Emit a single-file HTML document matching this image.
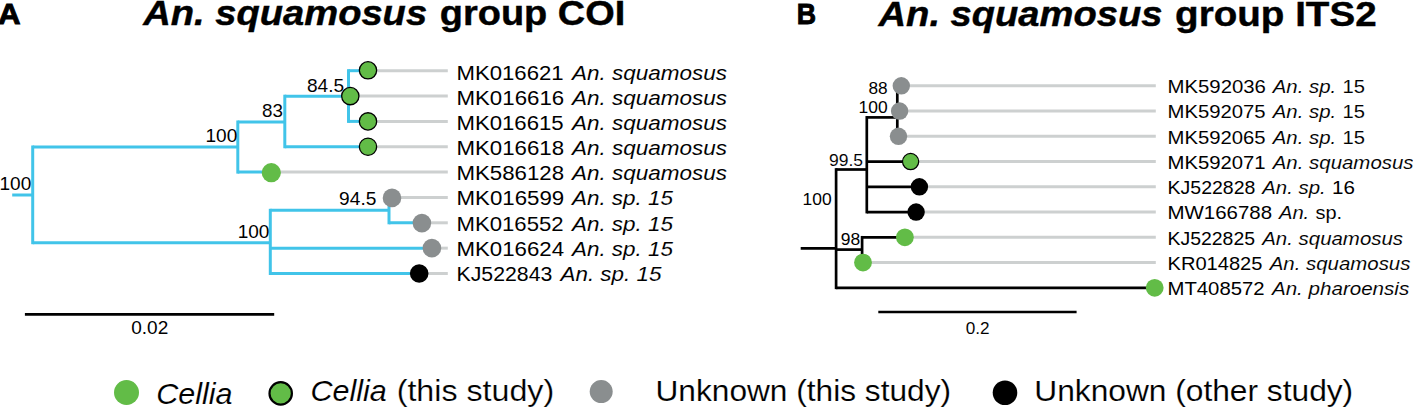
<!DOCTYPE html>
<html><head><meta charset="utf-8"><style>
html,body{margin:0;padding:0;background:#fff;}
body{width:1413px;height:407px;overflow:hidden;}
svg{display:block;}
text{font-family:"Liberation Sans",sans-serif;fill:#000;}
</style></head><body>
<svg width="1413" height="407" viewBox="0 0 1413 407">
<rect width="1413" height="407" fill="#fff"/>
<g id="shapes">
<line x1="368.00" y1="70.70" x2="447.80" y2="70.70" stroke="#CDD0D0" stroke-width="3.0"/>
<line x1="350.30" y1="96.05" x2="447.80" y2="96.05" stroke="#CDD0D0" stroke-width="3.0"/>
<line x1="368.00" y1="121.40" x2="447.80" y2="121.40" stroke="#CDD0D0" stroke-width="3.0"/>
<line x1="368.00" y1="146.75" x2="447.80" y2="146.75" stroke="#CDD0D0" stroke-width="3.0"/>
<line x1="271.30" y1="172.10" x2="447.80" y2="172.10" stroke="#CDD0D0" stroke-width="3.0"/>
<line x1="392.00" y1="197.45" x2="447.80" y2="197.45" stroke="#CDD0D0" stroke-width="3.0"/>
<line x1="421.90" y1="222.80" x2="447.80" y2="222.80" stroke="#CDD0D0" stroke-width="3.0"/>
<line x1="431.90" y1="248.15" x2="447.80" y2="248.15" stroke="#CDD0D0" stroke-width="3.0"/>
<line x1="419.20" y1="273.50" x2="447.80" y2="273.50" stroke="#CDD0D0" stroke-width="3.0"/>
<line x1="12.20" y1="195.00" x2="32.70" y2="195.00" stroke="#41C4E9" stroke-width="3.0"/>
<line x1="32.70" y1="147.00" x2="32.70" y2="242.70" stroke="#41C4E9" stroke-width="3.0" stroke-linecap="square"/>
<line x1="32.70" y1="147.00" x2="237.80" y2="147.00" stroke="#41C4E9" stroke-width="3.0"/>
<line x1="32.70" y1="242.70" x2="270.30" y2="242.70" stroke="#41C4E9" stroke-width="3.0"/>
<line x1="237.80" y1="122.00" x2="237.80" y2="172.10" stroke="#41C4E9" stroke-width="3.0" stroke-linecap="square"/>
<line x1="237.80" y1="122.00" x2="284.80" y2="122.00" stroke="#41C4E9" stroke-width="3.0"/>
<line x1="237.80" y1="172.10" x2="271.30" y2="172.10" stroke="#41C4E9" stroke-width="3.0"/>
<line x1="284.80" y1="96.20" x2="284.80" y2="146.75" stroke="#41C4E9" stroke-width="3.0" stroke-linecap="square"/>
<line x1="284.80" y1="96.20" x2="348.50" y2="96.20" stroke="#41C4E9" stroke-width="3.0"/>
<line x1="284.80" y1="146.75" x2="368.00" y2="146.75" stroke="#41C4E9" stroke-width="3.0"/>
<line x1="348.50" y1="70.70" x2="348.50" y2="121.40" stroke="#41C4E9" stroke-width="3.0" stroke-linecap="square"/>
<line x1="348.50" y1="70.70" x2="368.00" y2="70.70" stroke="#41C4E9" stroke-width="3.0"/>
<line x1="348.50" y1="121.40" x2="368.00" y2="121.40" stroke="#41C4E9" stroke-width="3.0"/>
<line x1="270.30" y1="210.30" x2="270.30" y2="273.50" stroke="#41C4E9" stroke-width="3.0" stroke-linecap="square"/>
<line x1="270.30" y1="210.30" x2="389.00" y2="210.30" stroke="#41C4E9" stroke-width="3.0"/>
<line x1="270.30" y1="248.15" x2="431.90" y2="248.15" stroke="#41C4E9" stroke-width="3.0"/>
<line x1="270.30" y1="273.50" x2="419.20" y2="273.50" stroke="#41C4E9" stroke-width="3.0"/>
<line x1="389.00" y1="197.45" x2="389.00" y2="222.80" stroke="#41C4E9" stroke-width="3.0" stroke-linecap="square"/>
<line x1="389.00" y1="197.45" x2="392.00" y2="197.45" stroke="#41C4E9" stroke-width="3.0"/>
<line x1="389.00" y1="222.80" x2="421.90" y2="222.80" stroke="#41C4E9" stroke-width="3.0"/>
<line x1="901.30" y1="85.80" x2="1155.80" y2="85.80" stroke="#CDD0D0" stroke-width="3.0"/>
<line x1="899.60" y1="111.05" x2="1155.80" y2="111.05" stroke="#CDD0D0" stroke-width="3.0"/>
<line x1="898.50" y1="136.30" x2="1155.80" y2="136.30" stroke="#CDD0D0" stroke-width="3.0"/>
<line x1="910.60" y1="161.55" x2="1155.80" y2="161.55" stroke="#CDD0D0" stroke-width="3.0"/>
<line x1="919.40" y1="186.80" x2="1155.80" y2="186.80" stroke="#CDD0D0" stroke-width="3.0"/>
<line x1="916.10" y1="212.05" x2="1155.80" y2="212.05" stroke="#CDD0D0" stroke-width="3.0"/>
<line x1="904.90" y1="237.30" x2="1155.80" y2="237.30" stroke="#CDD0D0" stroke-width="3.0"/>
<line x1="863.00" y1="262.55" x2="1155.80" y2="262.55" stroke="#CDD0D0" stroke-width="3.0"/>
<line x1="800.70" y1="248.40" x2="836.10" y2="248.40" stroke="#000" stroke-width="2.7"/>
<line x1="836.10" y1="169.50" x2="836.10" y2="287.80" stroke="#000" stroke-width="2.7" stroke-linecap="square"/>
<line x1="836.10" y1="169.50" x2="866.80" y2="169.50" stroke="#000" stroke-width="2.7"/>
<line x1="836.10" y1="249.60" x2="862.10" y2="249.60" stroke="#000" stroke-width="2.7"/>
<line x1="836.10" y1="287.80" x2="1154.70" y2="287.80" stroke="#000" stroke-width="2.7"/>
<line x1="866.80" y1="117.40" x2="866.80" y2="212.05" stroke="#000" stroke-width="2.7" stroke-linecap="square"/>
<line x1="866.80" y1="117.40" x2="897.30" y2="117.40" stroke="#000" stroke-width="2.7"/>
<line x1="866.80" y1="161.55" x2="910.60" y2="161.55" stroke="#000" stroke-width="2.7"/>
<line x1="866.80" y1="186.80" x2="919.40" y2="186.80" stroke="#000" stroke-width="2.7"/>
<line x1="866.80" y1="212.05" x2="916.10" y2="212.05" stroke="#000" stroke-width="2.7"/>
<line x1="897.30" y1="85.80" x2="897.30" y2="136.30" stroke="#000" stroke-width="2.7" stroke-linecap="square"/>
<line x1="897.30" y1="85.80" x2="901.30" y2="85.80" stroke="#000" stroke-width="2.7"/>
<line x1="897.30" y1="111.05" x2="899.60" y2="111.05" stroke="#000" stroke-width="2.7"/>
<line x1="897.30" y1="136.30" x2="898.50" y2="136.30" stroke="#000" stroke-width="2.7"/>
<line x1="862.10" y1="237.30" x2="862.10" y2="262.55" stroke="#000" stroke-width="2.7" stroke-linecap="square"/>
<line x1="862.10" y1="237.30" x2="904.90" y2="237.30" stroke="#000" stroke-width="2.7"/>
<line x1="24.90" y1="314.40" x2="274.20" y2="314.40" stroke="#000" stroke-width="2.7"/>
<line x1="878.30" y1="312.00" x2="1076.60" y2="312.00" stroke="#000" stroke-width="2.7"/>
</g>
<g id="circles">
<circle cx="368.00" cy="70.30" r="8.65" fill="#62BC47" stroke="#000" stroke-width="1.3"/>
<circle cx="350.30" cy="96.10" r="8.65" fill="#62BC47" stroke="#000" stroke-width="1.3"/>
<circle cx="368.00" cy="121.40" r="8.65" fill="#62BC47" stroke="#000" stroke-width="1.3"/>
<circle cx="368.00" cy="146.75" r="8.65" fill="#62BC47" stroke="#000" stroke-width="1.3"/>
<circle cx="271.30" cy="172.70" r="9.60" fill="#62BC47"/>
<circle cx="392.00" cy="197.90" r="9.30" fill="#8A8E8F"/>
<circle cx="421.90" cy="223.10" r="9.30" fill="#8A8E8F"/>
<circle cx="431.90" cy="248.15" r="9.30" fill="#8A8E8F"/>
<circle cx="419.20" cy="273.50" r="9.30" fill="#000"/>
<circle cx="901.30" cy="85.80" r="8.70" fill="#8A8E8F"/>
<circle cx="899.60" cy="111.05" r="8.70" fill="#8A8E8F"/>
<circle cx="898.50" cy="136.30" r="8.70" fill="#8A8E8F"/>
<circle cx="910.60" cy="161.55" r="8.10" fill="#62BC47" stroke="#000" stroke-width="1.2"/>
<circle cx="919.40" cy="186.80" r="8.70" fill="#000"/>
<circle cx="916.10" cy="212.05" r="8.70" fill="#000"/>
<circle cx="904.90" cy="237.30" r="8.90" fill="#62BC47"/>
<circle cx="863.00" cy="262.55" r="8.90" fill="#62BC47"/>
<circle cx="1154.70" cy="287.80" r="8.90" fill="#62BC47"/>
<circle cx="126.50" cy="392.50" r="12.50" fill="#62BC47"/>
<circle cx="280.70" cy="393.40" r="11.20" fill="#62BC47" stroke="#000" stroke-width="2.2"/>
<circle cx="601.20" cy="391.60" r="11.50" fill="#8A8E8F"/>
<circle cx="1005.00" cy="392.80" r="12.30" fill="#000"/>
</g>
<g id="texts">
<text id="t0" x="-1.90" y="24.20" font-size="29.46" font-style="normal" font-weight="bold" textLength="22.60" lengthAdjust="spacingAndGlyphs" stroke="#000" stroke-width="0.9">A</text>
<text id="t1" x="796.64" y="24.30" font-size="29.46" font-style="normal" font-weight="bold" textLength="19.29" lengthAdjust="spacingAndGlyphs" stroke="#000" stroke-width="0.9">B</text>
<text id="t2" x="143.28" y="24.90" font-size="34.42" font-style="italic" font-weight="bold" textLength="283.85" lengthAdjust="spacingAndGlyphs" stroke="#000" stroke-width="0.4">An. squamosus</text>
<text id="t3" x="439.86" y="24.90" font-size="34.42" font-style="normal" font-weight="bold" textLength="185.38" lengthAdjust="spacingAndGlyphs" stroke="#000" stroke-width="0.4">group COI</text>
<text id="t4" x="878.58" y="25.60" font-size="34.42" font-style="italic" font-weight="bold" textLength="283.85" lengthAdjust="spacingAndGlyphs" stroke="#000" stroke-width="0.4">An. squamosus</text>
<text id="t5" x="1175.13" y="25.60" font-size="34.42" font-style="normal" font-weight="bold" textLength="201.53" lengthAdjust="spacingAndGlyphs" stroke="#000" stroke-width="0.4">group ITS2</text>
<text id="t6" x="456.49" y="79.50" font-size="20.91" font-style="normal" font-weight="normal" textLength="107.17" lengthAdjust="spacingAndGlyphs">MK016621</text>
<text id="t7" x="571.97" y="79.50" font-size="21.11" font-style="italic" font-weight="normal" textLength="154.97" lengthAdjust="spacingAndGlyphs" stroke="#fff" stroke-width="0.054">An. squamosus</text>
<text id="t8" x="456.49" y="104.68" font-size="20.91" font-style="normal" font-weight="normal" textLength="107.67" lengthAdjust="spacingAndGlyphs">MK016616</text>
<text id="t9" x="571.97" y="104.68" font-size="21.11" font-style="italic" font-weight="normal" textLength="154.97" lengthAdjust="spacingAndGlyphs" stroke="#fff" stroke-width="0.054">An. squamosus</text>
<text id="t10" x="456.49" y="129.86" font-size="20.91" font-style="normal" font-weight="normal" textLength="107.16" lengthAdjust="spacingAndGlyphs">MK016615</text>
<text id="t11" x="571.97" y="129.86" font-size="21.11" font-style="italic" font-weight="normal" textLength="154.97" lengthAdjust="spacingAndGlyphs" stroke="#fff" stroke-width="0.054">An. squamosus</text>
<text id="t12" x="456.49" y="155.04" font-size="20.91" font-style="normal" font-weight="normal" textLength="107.57" lengthAdjust="spacingAndGlyphs">MK016618</text>
<text id="t13" x="571.97" y="155.04" font-size="21.11" font-style="italic" font-weight="normal" textLength="154.97" lengthAdjust="spacingAndGlyphs" stroke="#fff" stroke-width="0.054">An. squamosus</text>
<text id="t14" x="456.49" y="180.22" font-size="20.91" font-style="normal" font-weight="normal" textLength="107.57" lengthAdjust="spacingAndGlyphs">MK586128</text>
<text id="t15" x="571.97" y="180.22" font-size="21.11" font-style="italic" font-weight="normal" textLength="154.97" lengthAdjust="spacingAndGlyphs" stroke="#fff" stroke-width="0.054">An. squamosus</text>
<text id="t16" x="456.49" y="205.40" font-size="20.91" font-style="normal" font-weight="normal" textLength="107.68" lengthAdjust="spacingAndGlyphs">MK016599</text>
<text id="t17" x="571.97" y="205.40" font-size="20.91" font-style="italic" font-weight="normal" textLength="100.92" lengthAdjust="spacingAndGlyphs" stroke="#fff" stroke-width="0.056">An. sp. 15</text>
<text id="t18" x="456.50" y="230.58" font-size="20.91" font-style="normal" font-weight="normal" textLength="107.06" lengthAdjust="spacingAndGlyphs" stroke="#fff" stroke-width="0.032">MK016552</text>
<text id="t19" x="571.97" y="230.58" font-size="20.91" font-style="italic" font-weight="normal" textLength="100.92" lengthAdjust="spacingAndGlyphs" stroke="#fff" stroke-width="0.056">An. sp. 15</text>
<text id="t20" x="456.49" y="255.76" font-size="20.91" font-style="normal" font-weight="normal" textLength="107.55" lengthAdjust="spacingAndGlyphs">MK016624</text>
<text id="t21" x="571.97" y="255.76" font-size="20.91" font-style="italic" font-weight="normal" textLength="100.92" lengthAdjust="spacingAndGlyphs" stroke="#fff" stroke-width="0.056">An. sp. 15</text>
<text id="t22" x="456.57" y="280.94" font-size="20.91" font-style="normal" font-weight="normal" textLength="95.75" lengthAdjust="spacingAndGlyphs">KJ522843</text>
<text id="t23" x="560.47" y="280.94" font-size="20.91" font-style="italic" font-weight="normal" textLength="100.92" lengthAdjust="spacingAndGlyphs" stroke="#fff" stroke-width="0.058">An. sp. 15</text>
<text id="t24" x="1167.49" y="93.00" font-size="19.05" font-style="normal" font-weight="normal" textLength="98.46" lengthAdjust="spacingAndGlyphs" stroke="#fff" stroke-width="0.038">MK592036</text>
<text id="t25" x="1272.76" y="93.00" font-size="19.24" font-style="italic" font-weight="normal" textLength="63.39" lengthAdjust="spacingAndGlyphs" stroke="#fff" stroke-width="0.071">An. sp.</text>
<text id="t26" x="1342.51" y="93.00" font-size="19.05" font-style="normal" font-weight="normal" textLength="22.43" lengthAdjust="spacingAndGlyphs" stroke="#fff" stroke-width="0.079">15</text>
<text id="t27" x="1167.50" y="118.25" font-size="19.05" font-style="normal" font-weight="normal" textLength="98.05" lengthAdjust="spacingAndGlyphs" stroke="#fff" stroke-width="0.037">MK592075</text>
<text id="t28" x="1272.76" y="118.25" font-size="19.24" font-style="italic" font-weight="normal" textLength="63.39" lengthAdjust="spacingAndGlyphs" stroke="#fff" stroke-width="0.071">An. sp.</text>
<text id="t29" x="1342.51" y="118.25" font-size="19.05" font-style="normal" font-weight="normal" textLength="22.43" lengthAdjust="spacingAndGlyphs" stroke="#fff" stroke-width="0.079">15</text>
<text id="t30" x="1167.50" y="143.50" font-size="19.05" font-style="normal" font-weight="normal" textLength="98.05" lengthAdjust="spacingAndGlyphs" stroke="#fff" stroke-width="0.034">MK592065</text>
<text id="t31" x="1272.76" y="143.50" font-size="19.24" font-style="italic" font-weight="normal" textLength="63.39" lengthAdjust="spacingAndGlyphs" stroke="#fff" stroke-width="0.071">An. sp.</text>
<text id="t32" x="1342.51" y="143.50" font-size="19.05" font-style="normal" font-weight="normal" textLength="22.43" lengthAdjust="spacingAndGlyphs" stroke="#fff" stroke-width="0.079">15</text>
<text id="t33" x="1167.50" y="168.75" font-size="19.05" font-style="normal" font-weight="normal" textLength="98.06" lengthAdjust="spacingAndGlyphs">MK592071</text>
<text id="t34" x="1272.76" y="168.75" font-size="19.24" font-style="italic" font-weight="normal" textLength="140.77" lengthAdjust="spacingAndGlyphs" stroke="#fff" stroke-width="0.078">An. squamosus</text>
<text id="t35" x="1167.57" y="194.00" font-size="19.05" font-style="normal" font-weight="normal" textLength="87.75" lengthAdjust="spacingAndGlyphs">KJ522828</text>
<text id="t36" x="1262.26" y="194.00" font-size="19.24" font-style="italic" font-weight="normal" textLength="63.39" lengthAdjust="spacingAndGlyphs" stroke="#fff" stroke-width="0.072">An. sp.</text>
<text id="t37" x="1331.98" y="194.00" font-size="19.05" font-style="normal" font-weight="normal" textLength="22.88" lengthAdjust="spacingAndGlyphs">16</text>
<text id="t38" x="1167.48" y="219.25" font-size="19.05" font-style="normal" font-weight="normal" textLength="104.57" lengthAdjust="spacingAndGlyphs">MW166788</text>
<text id="t39" x="1278.95" y="219.25" font-size="19.05" font-style="italic" font-weight="normal" textLength="30.28" lengthAdjust="spacingAndGlyphs" stroke="#fff" stroke-width="0.078">An.</text>
<text id="t40" x="1315.58" y="219.25" font-size="19.24" font-style="normal" font-weight="normal" textLength="26.59" lengthAdjust="spacingAndGlyphs" stroke="#fff" stroke-width="0.049">sp.</text>
<text id="t41" x="1167.57" y="244.50" font-size="19.05" font-style="normal" font-weight="normal" textLength="87.44" lengthAdjust="spacingAndGlyphs">KJ522825</text>
<text id="t42" x="1262.26" y="244.50" font-size="19.24" font-style="italic" font-weight="normal" textLength="140.77" lengthAdjust="spacingAndGlyphs" stroke="#fff" stroke-width="0.076">An. squamosus</text>
<text id="t43" x="1167.51" y="269.75" font-size="19.05" font-style="normal" font-weight="normal" textLength="94.93" lengthAdjust="spacingAndGlyphs">KR014825</text>
<text id="t44" x="1269.66" y="269.75" font-size="19.24" font-style="italic" font-weight="normal" textLength="140.77" lengthAdjust="spacingAndGlyphs" stroke="#fff" stroke-width="0.077">An. squamosus</text>
<text id="t45" x="1167.50" y="295.00" font-size="19.05" font-style="normal" font-weight="normal" textLength="97.06" lengthAdjust="spacingAndGlyphs">MT408572</text>
<text id="t46" x="1271.96" y="295.00" font-size="19.24" font-style="italic" font-weight="normal" textLength="137.26" lengthAdjust="spacingAndGlyphs" stroke="#fff" stroke-width="0.075">An. pharoensis</text>
<text id="t47" x="-0.50" y="190.00" font-size="17.72" font-style="normal" font-weight="normal" textLength="31.75" lengthAdjust="spacingAndGlyphs">100</text>
<text id="t48" x="205.50" y="142.30" font-size="17.72" font-style="normal" font-weight="normal" textLength="31.75" lengthAdjust="spacingAndGlyphs">100</text>
<text id="t49" x="262.05" y="116.60" font-size="17.72" font-style="normal" font-weight="normal" textLength="20.90" lengthAdjust="spacingAndGlyphs" stroke="#fff" stroke-width="0.053">83</text>
<text id="t50" x="307.03" y="91.80" font-size="17.72" font-style="normal" font-weight="normal" textLength="37.12" lengthAdjust="spacingAndGlyphs" stroke="#fff" stroke-width="0.033">84.5</text>
<text id="t51" x="339.13" y="204.90" font-size="17.72" font-style="normal" font-weight="normal" textLength="37.23" lengthAdjust="spacingAndGlyphs">94.5</text>
<text id="t52" x="237.70" y="238.30" font-size="17.72" font-style="normal" font-weight="normal" textLength="31.75" lengthAdjust="spacingAndGlyphs">100</text>
<text id="t53" x="868.45" y="93.90" font-size="16.07" font-style="normal" font-weight="normal" textLength="19.19" lengthAdjust="spacingAndGlyphs">88</text>
<text id="t54" x="858.61" y="112.90" font-size="16.07" font-style="normal" font-weight="normal" textLength="29.04" lengthAdjust="spacingAndGlyphs">100</text>
<text id="t55" x="829.04" y="165.50" font-size="16.07" font-style="normal" font-weight="normal" textLength="34.02" lengthAdjust="spacingAndGlyphs" stroke="#fff" stroke-width="0.073">99.5</text>
<text id="t56" x="802.61" y="204.50" font-size="16.07" font-style="normal" font-weight="normal" textLength="29.04" lengthAdjust="spacingAndGlyphs">100</text>
<text id="t57" x="840.74" y="245.30" font-size="16.07" font-style="normal" font-weight="normal" textLength="19.42" lengthAdjust="spacingAndGlyphs">98</text>
<text id="t58" x="131.24" y="334.00" font-size="17.72" font-style="normal" font-weight="normal" textLength="37.02" lengthAdjust="spacingAndGlyphs">0.02</text>
<text id="t59" x="965.81" y="333.70" font-size="16.07" font-style="normal" font-weight="normal" textLength="23.89" lengthAdjust="spacingAndGlyphs" stroke="#fff" stroke-width="0.043">0.2</text>
<text id="t60" x="156.21" y="403.80" font-size="28.86" font-style="italic" font-weight="normal" textLength="76.35" lengthAdjust="spacingAndGlyphs" stroke="#fff" stroke-width="0.111">Cellia</text>
<text id="t61" x="310.41" y="401.30" font-size="28.86" font-style="italic" font-weight="normal" textLength="76.35" lengthAdjust="spacingAndGlyphs" stroke="#fff" stroke-width="0.111">Cellia</text>
<text id="t62" x="396.69" y="401.30" font-size="28.86" font-style="normal" font-weight="normal" textLength="157.51" lengthAdjust="spacingAndGlyphs" stroke="#fff" stroke-width="0.182">(this study)</text>
<text id="t63" x="655.49" y="401.30" font-size="28.86" font-style="normal" font-weight="normal" textLength="295.58" lengthAdjust="spacingAndGlyphs" stroke="#fff" stroke-width="0.136">Unknown (this study)</text>
<text id="t64" x="1034.29" y="401.30" font-size="28.86" font-style="normal" font-weight="normal" textLength="318.88" lengthAdjust="spacingAndGlyphs" stroke="#fff" stroke-width="0.13">Unknown (other study)</text>
</g>
</svg>
</body></html>
